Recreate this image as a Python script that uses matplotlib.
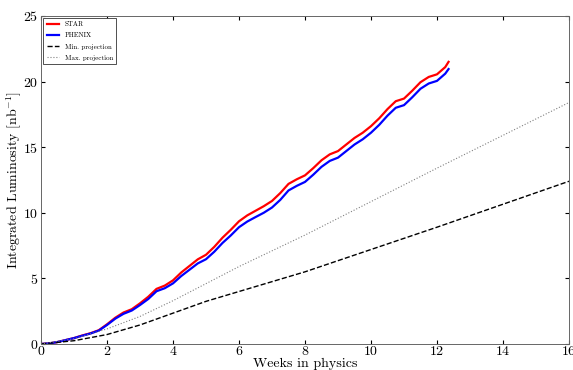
import matplotlib
matplotlib.use("Agg")
import matplotlib.pyplot as plt

# weeks in physics and integrated luminosity (nb^-1)
weeks = [0, 0.25, 0.5, 0.75, 1.0, 1.25, 1.5, 1.75, 2.0, 2.25, 2.5, 2.75, 3.0, 3.25, 3.5,
         3.75, 4.0, 4.25, 4.5, 4.75, 5.0, 5.25, 5.5, 5.75, 6.0, 6.25, 6.5, 6.75, 7.0,
         7.25, 7.5, 7.75, 8.0, 8.25, 8.5, 8.75, 9.0, 9.25, 9.5, 9.75, 10.0, 10.25, 10.5,
         10.75, 11.0, 11.25, 11.5, 11.75, 12.0, 12.25, 12.35]
star = [0, 0.05, 0.15, 0.3, 0.45, 0.65, 0.82, 1.05, 1.5, 2.0, 2.4, 2.65, 3.1, 3.6, 4.2,
        4.45, 4.85, 5.45, 5.95, 6.45, 6.8, 7.4, 8.1, 8.7, 9.35, 9.8, 10.15, 10.5, 10.9,
        11.5, 12.2, 12.55, 12.85, 13.4, 14.0, 14.45, 14.7, 15.2, 15.7, 16.1, 16.6, 17.2,
        17.9, 18.5, 18.7, 19.3, 19.95, 20.35, 20.55, 21.1, 21.5]
phenix = [0, 0.05, 0.15, 0.3, 0.45, 0.63, 0.8, 1.02, 1.45, 1.93, 2.3, 2.55, 2.97, 3.43,
          4.02, 4.25, 4.62, 5.18, 5.66, 6.14, 6.46, 7.03, 7.7, 8.27, 8.9, 9.33, 9.67, 10.0,
          10.4, 10.98, 11.7, 12.05, 12.35, 12.9, 13.5, 13.95, 14.2, 14.7, 15.2, 15.6, 16.1,
          16.7, 17.4, 18.0, 18.2, 18.8, 19.45, 19.85, 20.05, 20.6, 20.95]

proj_weeks = [0, 1, 2, 3, 4, 5, 6, 8, 10, 12, 14, 16]
min_proj = [0, 0.25, 0.72, 1.45, 2.35, 3.25, 4.0, 5.5, 7.2, 8.9, 10.65, 12.4]
max_proj = [0, 0.4, 1.15, 2.1, 3.3, 4.6, 5.9, 8.3, 10.85, 13.4, 15.9, 18.4]

plt.rcParams['font.family'] = 'serif'
plt.rcParams['font.serif'] = ['cmr10', 'DejaVu Serif']
plt.rcParams['mathtext.fontset'] = 'cm'
plt.rcParams['axes.formatter.use_mathtext'] = True

fig = plt.figure(figsize=(5.73, 3.70), dpi=100)
ax = fig.add_axes([0.0716, 0.0703, 0.9214, 0.8867])

ax.plot(weeks, star, color='red', lw=1.6, label='STAR')
ax.plot(weeks, phenix, color='blue', lw=1.6, label='PHENIX')
ax.plot(proj_weeks, min_proj, color='black', lw=1.0, ls='--', label='Min. projection')
ax.plot(proj_weeks, max_proj, color='grey', lw=0.8, ls=':', label='Max. projection')

ax.set_xlim(0, 16)
ax.set_ylim(0, 25)
ax.set_xticks(range(0, 17, 2))
ax.set_yticks(range(0, 26, 5))
ax.tick_params(direction='in', top=True, right=True, labelsize=10, length=3)
ax.tick_params(axis='x', pad=1)
ax.tick_params(axis='y', pad=2)
for s in ax.spines.values():
    s.set_linewidth(0.7)
    s.set_color('#666666')

ax.set_xlabel('Weeks in physics', fontsize=10, va='center')
ax.xaxis.set_label_coords(0.5, -0.061)
ax.set_ylabel(r'Integrated Luminosity [nb$^{-1}$]', fontsize=10, va='center')
ax.yaxis.set_label_coords(-0.05, 0.5)

leg = ax.legend(loc='upper left', fontsize=5, handlelength=1.8, handletextpad=0.8,
                fancybox=False, borderpad=0.45, labelspacing=0.75, framealpha=1,
                borderaxespad=0.35)
leg.get_frame().set_edgecolor('#333333')
leg.get_frame().set_linewidth(0.6)

fig.savefig('out.png', dpi=100)
